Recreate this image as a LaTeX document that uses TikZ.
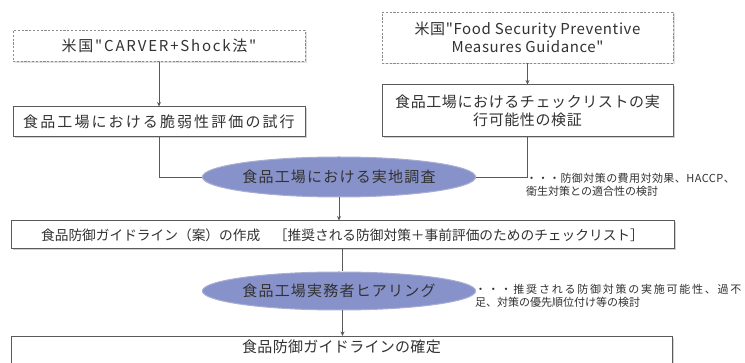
\documentclass[tikz,border=0pt]{standalone}
\usepackage{fontspec}
\newfontfamily\jp{Noto Sans CJK JP}
\newfontfamily\jpB[LetterSpace=2]{Noto Sans CJK JP}
\newfontfamily\jpD[LetterSpace=4]{Noto Sans CJK JP}
\newfontfamily\jpH[LetterSpace=8]{Noto Sans CJK JP}
\newfontfamily\jpL[LetterSpace=12]{Noto Sans CJK JP}
\newfontfamily\jpN[LetterSpace=14]{Noto Sans CJK JP}
\newfontfamily\jpP[LetterSpace=16]{Noto Sans CJK JP}
\usetikzlibrary{shapes.geometric,shadows,arrows.meta}
\definecolor{ellfill}{RGB}{136,146,202}
\definecolor{ellline}{RGB}{110,120,180}
\definecolor{boxline}{RGB}{90,90,90}
\definecolor{txt}{RGB}{50,50,50}
\newcommand\sz[1]{\fontsize{#1}{18}\selectfont}
\tikzset{
  base/.style={font=\jp\sz{15}, text=txt, inner sep=0pt, align=center},
  solidbox/.style={base, draw=boxline, line width=1pt, fill=white,
     drop shadow={shadow xshift=1.5pt, shadow yshift=-1.5pt, opacity=0.35}},
  dashbox/.style={base, draw=boxline!70, dash pattern=on 2.2pt off 1.6pt, line width=0.8pt, fill=white,
     drop shadow={shadow xshift=1.5pt, shadow yshift=-1.5pt, opacity=0.25}},
  ellnode/.style={base, ellipse, fill=ellfill, draw=ellline!60, line width=1pt, inner sep=0pt},
  note/.style={font=\jp\fontsize{11}{13}\selectfont, text=txt, anchor=west, inner sep=0pt},
  conn/.style={draw=black!65, line width=0.9pt},
  arr/.style={conn, -{Stealth[length=4.5pt,width=4pt]}},
}
\begin{document}
\begin{tikzpicture}[x=1pt,y=-1pt]
\useasboundingbox (0,0) rectangle (745,363);
\clip (0,0) rectangle (745,363);
\fill[white] (0,0) rectangle (745,363);
\node[dashbox, font=\jpL\sz{15}, minimum width=292pt, minimum height=31pt] (b1) at (159,46) {米国"CARVER+Shock法"};
\node[solidbox, font=\jpN\sz{15}, minimum width=292pt, minimum height=30pt] (b2) at (159,122) {食品工場における脆弱性評価の試行};
\node[dashbox, font=\jpD\sz{15}, minimum width=291pt, minimum height=51pt] (b3) at (527.5,37.5) {米国"Food Security Preventive\\Measures Guidance"};
\node[solidbox, font=\jpD\sz{15}, minimum width=291pt, minimum height=52pt] (b4) at (527.5,111) {食品工場におけるチェックリストの実\\行可能性の検証};
\node[ellnode, font=\jpH\sz{15}, minimum width=248pt, minimum height=40pt] (e1) at (339,177) {食品工場における実地調査};
\node[note] (n1) at (526,186) {\begin{tabular}{@{}l@{}}{\jpD ・・・防御対策の費用対効果、HACCP、}\\衛生対策との適合性の検討\end{tabular}};
\node[solidbox, font=\jp\sz{13.7}, minimum width=663pt, minimum height=28pt] (b5) at (342.5,235) {食品防御ガイドライン（案）の作成\quad［推奨される防御対策＋事前評価のためのチェックリスト］};
\node[ellnode, font=\jpH\sz{15}, minimum width=252pt, minimum height=38pt] (e2) at (339,291) {食品工場実務者ヒアリング};
\node[note] (n2) at (475,297) {\begin{tabular}{@{}l@{}}{\jpP ・・・推奨される防御対策の実施可能性、過不}\\足、対策の優先順位付け等の検討\end{tabular}};
\node[solidbox, font=\jpB\sz{15}, anchor=north, minimum width=661pt, text height=13pt, text depth=30pt, inner ysep=3pt] (b6) at (341.5,336) {食品防御ガイドラインの確定};
\draw[arr] (b1.south) -- (b2.north);
\draw[arr] (b3.south) -- (b4.north);
\draw[conn] (b2.south) |- (e1.west);
\draw[conn] (b4.south) |- (e1.east);
\draw[arr] (e1.south) -- (e1.south |- b5.north);
\draw[conn] (b5.south) -- (b5.south |- e2.north);
\draw[arr] (b5.south |- e2.south) -- (b5.south |- b6.north);
\end{tikzpicture}
\end{document}
